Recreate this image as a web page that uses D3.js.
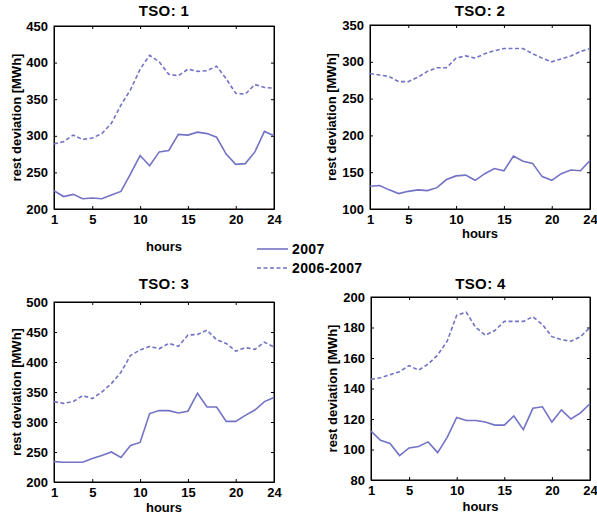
<!DOCTYPE html>
<html>
<head>
<meta charset="utf-8">
<script src="https://cdn.jsdelivr.net/npm/d3@7"></script>
<style>
  body { margin: 0; background: #fff; }
  svg { font-family: 'Liberation Sans', Arial, sans-serif; font-weight: bold; }
  .axis path, .axis line { stroke: #000; }
  .axis text { font-size: 13px; font-weight: bold; fill: #000; }
</style>
</head>
<body>
<svg id="chart" width="597" height="517"></svg>
<script>
const hours = d3.range(1, 25);
const xTicks = [1, 5, 10, 15, 20, 24];
const seriesNames = ['2007', '2006-2007'];

const tso1_2007 = [225, 217, 220, 214, 215, 214, 219, 224, 248, 273, 259, 278, 280, 302, 301, 305, 303, 298, 275, 261, 262, 278, 306, 300];
const tso1_0607 = [289, 292, 301, 295, 297, 303, 317, 342, 363, 391, 410, 401, 384, 382, 391, 388, 389, 395, 378, 358, 357, 370, 366, 365];

const tso2_2007 = [131, 132, 126, 121, 124, 126, 125, 129, 140, 145, 146, 139, 148, 155, 152, 172, 165, 162, 144, 139, 148, 153, 152, 166];
const tso2_0607 = [284, 282, 280, 273, 273, 279, 287, 292, 292, 305, 308, 305, 311, 315, 318, 318, 318, 311, 305, 300, 304, 308, 314, 318];

const tso3_2007 = [234, 233, 233, 233, 239, 244, 250, 241, 261, 266, 314, 319, 319, 315, 318, 348, 325, 325, 301, 301, 311, 320, 334, 341];
const tso3_0607 = [334, 331, 334, 344, 339, 350, 364, 383, 411, 420, 426, 422, 431, 426, 445, 446, 453, 437, 431, 418, 424, 421, 433, 425];

const tso4_2007 = [112, 106, 104, 96, 101, 102, 105, 98, 108, 121, 119, 119, 118, 116, 116, 122, 113, 127, 128, 118, 126, 120, 124, 130];
const tso4_0607 = [146, 147, 149, 151, 155, 152, 156, 162, 171, 188, 190, 180, 175, 178, 184, 184, 184, 187, 182, 174, 172, 171, 174, 180];

const yDomains = [[200, 450], [100, 350], [200, 500], [80, 200]];
const yTickSteps = [50, 50, 50, 20];

const panels = [
  {title: 'TSO: 1', a: tso1_2007, b: tso1_0607, left: 54, right: 274, top: 26, bottom: 209, titleY: 16, hoursY: 251, labelX: 21},
  {title: 'TSO: 2', a: tso2_2007, b: tso2_0607, left: 370, right: 590, top: 25, bottom: 209, titleY: 16, hoursY: 238, labelX: 336},
  {title: 'TSO: 3', a: tso3_2007, b: tso3_0607, left: 54, right: 274, top: 302, bottom: 482, titleY: 289, hoursY: 512, labelX: 21},
  {title: 'TSO: 4', a: tso4_2007, b: tso4_0607, left: 371, right: 590, top: 297, bottom: 480, titleY: 289, hoursY: 511, labelX: 337}
];

const lineColor = '#7272c6';
const svg = d3.select('#chart');

panels.forEach((p, i) => {
  let width = p.right - p.left,
    height = p.bottom - p.top;

  let g = svg.append('g')
    .attr('transform', 'translate(' + p.left + ',' + p.top + ')');

  let xScale = d3.scaleLinear().domain([1, 24]).range([0, width]);
  let yScale = d3.scaleLinear().domain(yDomains[i]).range([height, 0]);
  let yTicks = d3.range(yDomains[i][0], yDomains[i][1] + 1, yTickSteps[i]);

  // inward ticks on all four sides (box on)
  g.append('g').attr('class', 'axis')
    .attr('transform', 'translate(0,' + height + ')')
    .call(d3.axisBottom(xScale).tickValues(xTicks).tickSizeInner(-3).tickSizeOuter(0).tickPadding(6));
  g.append('g').attr('class', 'axis')
    .call(d3.axisTop(xScale).tickValues(xTicks).tickSizeInner(-3).tickSizeOuter(0).tickFormat(''));
  g.append('g').attr('class', 'axis')
    .call(d3.axisLeft(yScale).tickValues(yTicks).tickSizeInner(-3).tickSizeOuter(0).tickPadding(6));
  g.append('g').attr('class', 'axis')
    .attr('transform', 'translate(' + width + ',0)')
    .call(d3.axisRight(yScale).tickValues(yTicks).tickSizeInner(-3).tickSizeOuter(0).tickFormat(''));

  g.append('rect')
    .attr('width', width)
    .attr('height', height)
    .attr('fill', 'none')
    .attr('stroke', '#000');

  let line = d3.line()
    .x((d, k) => xScale(hours[k]))
    .y(d => yScale(d));

  g.append('path')
    .datum(p.a)
    .attr('d', line)
    .attr('fill', 'none')
    .attr('stroke', lineColor)
    .attr('stroke-width', 1.6);

  g.append('path')
    .datum(p.b)
    .attr('d', line)
    .attr('fill', 'none')
    .attr('stroke', lineColor)
    .attr('stroke-width', 1.6)
    .attr('stroke-dasharray', '4,2.5');

  svg.append('text')
    .attr('x', (p.left + p.right) / 2)
    .attr('y', p.titleY)
    .attr('text-anchor', 'middle')
    .style('font-size', '15px')
    .style('letter-spacing', '0.4px')
    .text(p.title);

  svg.append('text')
    .attr('x', (p.left + p.right) / 2)
    .attr('y', p.hoursY)
    .attr('text-anchor', 'middle')
    .style('font-size', '13px')
    .text('hours');

  svg.append('text')
    .attr('transform', 'translate(' + p.labelX + ',' + (p.top + p.bottom) / 2 + ') rotate(-90)')
    .attr('text-anchor', 'middle')
    .style('font-size', '13px')
    .text('rest deviation [MWh]');
});

// shared legend in the middle
let legend = svg.append('g').attr('transform', 'translate(257,249)');
seriesNames.forEach((name, k) => {
  legend.append('line')
    .attr('x1', 0).attr('x2', 31)
    .attr('y1', k * 19).attr('y2', k * 19)
    .attr('stroke', lineColor)
    .attr('stroke-width', 1.6)
    .attr('stroke-dasharray', k ? '4,2.5' : null);
  legend.append('text')
    .attr('x', 35)
    .attr('y', k * 19 + 5)
    .style('font-size', '14px')
    .style('letter-spacing', '0.4px')
    .text(name);
});
</script>
</body>
</html>
